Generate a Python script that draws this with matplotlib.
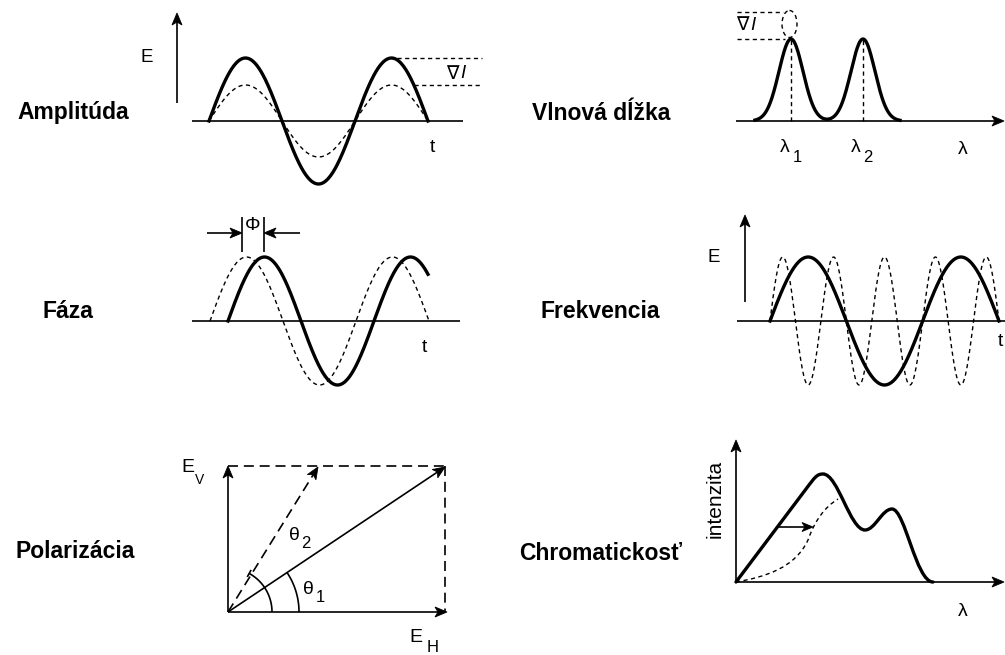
import numpy as np
from matplotlib import pyplot as plt
from matplotlib.patches import Ellipse, PathPatch, Polygon
from matplotlib.path import Path

plt.rcParams["font.family"] = ["Liberation Sans", "DejaVu Sans"]

W, H = 1005, 655

# row labels (text, x centre, y centre)
row_labels = [
    ("Amplitúda", 73, 113),
    ("Fáza", 68, 311),
    ("Polarizácia", 75, 552),
    ("Vlnová dĺžka", 601, 113),
    ("Frekvencia", 600, 312),
    ("Chromatickosť", 601, 553),
]

# Amplitúda: sine from start to end, full and reduced height
amp_base = 121
amp_span = [209, 428]
amp_cycles = 1.5
amp_heights = [63, 36]

# Vlnová dĺžka: two spectral peaks
wl_base = 121
wl_centres = [791, 863]
wl_height = 82
wl_sigma = 12
wl_span = [755, 900]

# Fáza: same sine, shifted
ph_base = 321
ph_period = 146
ph_height = 64
ph_solid_span = [228, 428]
ph_dashed_span = [210, 429]

# Frekvencia: same span, three times the frequency
fr_base = 321
fr_span = [770, 999]
fr_cycles = [1.5, 4.5]
fr_height = 64

# Polarizácia: origin, E_H length, E_V length, dashed vector x, arc radii
pol_origin = (228, 612)
pol_eh = 219
pol_ev = 146
pol_dashed_dx = 90
pol_radii = [71, 44]

# Chromatickosť: bezier vertices of both spectra
chrom_solid = [
    (736, 582), (806, 489),
    (815, 477), (817, 474), (823, 474),
    (838, 474), (850, 530), (865, 530),
    (875, 530), (882, 509), (892, 509),
    (905, 509), (916, 582), (933, 582),
]
chrom_solid_codes = [Path.MOVETO, Path.LINETO] + [Path.CURVE4] * 12
chrom_dashed = [
    (736, 582),
    (765, 577), (795, 568), (808, 540),
    (815, 520), (825, 507), (838, 499),
]
chrom_dashed_codes = [Path.MOVETO] + [Path.CURVE4] * 6

THICK = 2.4
THIN = 1.2
DASH = (0, (3, 2.5))
LONG_DASH = (0, (6, 3.5))

fig = plt.figure(figsize=(W / 100, H / 100), dpi=100)
ax = fig.add_axes([0, 0, 1, 1])
ax.set_xlim(0, W)
ax.set_ylim(H, 0)
ax.axis("off")


def arrow(x0, y0, x1, y1, lw=THIN, ls="-", head=(12, 5, 3)):
    length, half, notch = head
    d = np.array([x1 - x0, y1 - y0], float)
    u = d / np.hypot(*d)
    n = np.array([-u[1], u[0]])
    tip = np.array([x1, y1], float)
    back = tip - length * u
    neck = tip - (length - notch) * u
    ax.plot([x0, neck[0]], [y0, neck[1]], color="k", lw=lw, ls=ls,
            solid_capstyle="butt")
    ax.add_patch(Polygon([tip, back + half * n, neck, back - half * n],
                         closed=True, fc="k", ec="k", lw=0.6))


def line(xs, ys, lw=THIN, ls="-"):
    ax.plot(xs, ys, color="k", lw=lw, ls=ls, solid_capstyle="butt")


def sine(x0, x1, period, height, base, lw, ls):
    x = np.linspace(x0, x1, 300)
    ax.plot(x, base - height * np.sin(2 * np.pi * (x - x0) / period),
            color="k", lw=lw, ls=ls)


def text(x, y, s, size=14, **kw):
    ax.text(x, y, s, fontsize=size, ha="center", va="center", **kw)


def sub_text(x, y, s, sub, xs, ys, size=14, sub_size=11):
    text(x, y, s, size)
    text(xs, ys, sub, sub_size)


def nabla_i(x, y):
    ax.text(x, y, "∇", fontsize=13.5, ha="right", va="center")
    ax.text(x + 1, y, "I", fontsize=13.5, ha="left", va="center",
            style="italic")


for s, x, y in row_labels:
    text(x, y, s, size=16.5, fontweight="bold")

# Amplitúda
arrow(177, 103, 177, 13)
text(147, 57, "E", 13.5)
line([192, 463], [amp_base, amp_base])
amp_period = (amp_span[1] - amp_span[0]) / amp_cycles
sine(*amp_span, amp_period, amp_heights[0], amp_base, THICK, "-")
sine(*amp_span, amp_period, amp_heights[1], amp_base, 1.0, DASH)
line([397, 482], [amp_base - amp_heights[0]] * 2, 1.0, DASH)
line([414, 482], [amp_base - amp_heights[1]] * 2, 1.0, DASH)
nabla_i(459, 74)
text(432, 148, "t")

# Vlnová dĺžka
arrow(736, wl_base, 1004, wl_base)
x = np.linspace(*wl_span, 300)
y = sum(wl_height * np.exp(-((x - c) ** 2) / (2 * wl_sigma ** 2))
        for c in wl_centres)
ax.plot(x, wl_base - y, color="k", lw=THICK)
for c in wl_centres:
    line([c, c], [wl_base, wl_base - wl_height], 1.0, DASH)
line([737, 783], [12, 12], 1.0, DASH)
line([737, 785], [39, 39], 1.0, DASH)
ax.add_patch(Ellipse((789.5, 24), 15, 27, fill=False, ec="k", lw=1.0,
                     ls=DASH))
nabla_i(749, 25)
sub_text(785, 148, "λ", "1", 797, 157, sub_size=12)
sub_text(856, 148, "λ", "2", 868, 157, sub_size=12)
text(963, 150, "λ")

# Fáza
line([192, 460], [ph_base, ph_base])
sine(*ph_solid_span, ph_period, ph_height, ph_base, THICK, "-")
sine(*ph_dashed_span, ph_period, ph_height, ph_base, 1.0, DASH)
line([242, 242], [217, 252])
line([264, 264], [217, 252])
arrow(207, 233, 242, 233)
arrow(300, 233, 264, 233)
text(253, 226, "Φ")
text(424, 348, "t")

# Frekvencia
arrow(745, 302, 745, 215)
text(714, 258, "E", 13.5)
line([737, 1005], [fr_base, fr_base])
for cycles, lw, ls in zip(fr_cycles, [THICK, 1.0], ["-", DASH]):
    period = (fr_span[1] - fr_span[0]) / cycles
    sine(*fr_span, period, fr_height, fr_base, lw, ls)
text(1000, 342, "t")

# Polarizácia
ox, oy = pol_origin
arrow(ox, oy, ox + pol_eh, oy)
arrow(ox, oy, ox, oy - pol_ev)
line([ox, ox + pol_eh - 2], [oy - pol_ev] * 2, THIN, LONG_DASH)
line([ox + pol_eh - 2] * 2, [oy - pol_ev, oy], THIN, LONG_DASH)
arrow(ox, oy, ox + pol_eh - 2, oy - pol_ev + 1)
arrow(ox, oy, ox + pol_dashed_dx, oy - pol_ev + 1, ls=LONG_DASH)
angles = [np.arctan2(pol_ev, pol_eh), np.arctan2(pol_ev, pol_dashed_dx) + 0.05]
for r, a in zip(pol_radii, angles):
    t = np.linspace(0, a, 60)
    line(ox + r * np.cos(t), oy - r * np.sin(t))
a = angles[1]
line([ox + (pol_radii[1] - 4) * np.cos(a), ox + (pol_radii[1] + 4) * np.cos(a)],
     [oy - (pol_radii[1] - 4) * np.sin(a), oy - (pol_radii[1] + 4) * np.sin(a)])
sub_text(308, 590, "θ", "1", 320, 598, sub_size=12)
sub_text(294, 535, "θ", "2", 306, 544, sub_size=12)
sub_text(416, 638, "E", "H", 433, 647, sub_size=12)
sub_text(188, 468, "E", "V", 200, 480, sub_size=10)

# Chromatickosť
arrow(736, 582, 736, 440)
arrow(736, 582, 1004, 582)
ax.add_patch(PathPatch(Path(chrom_solid, chrom_solid_codes), fill=False,
                       ec="k", lw=THICK, capstyle="round"))
ax.add_patch(PathPatch(Path(chrom_dashed, chrom_dashed_codes), fill=False,
                       ec="k", lw=1.0, ls=DASH))
arrow(777, 527, 813, 527, head=(11, 4.5, 3))
text(715, 499, "intenzita", size=15, rotation=90)
text(963, 612, "λ")

fig.savefig("out.png", dpi=100)
